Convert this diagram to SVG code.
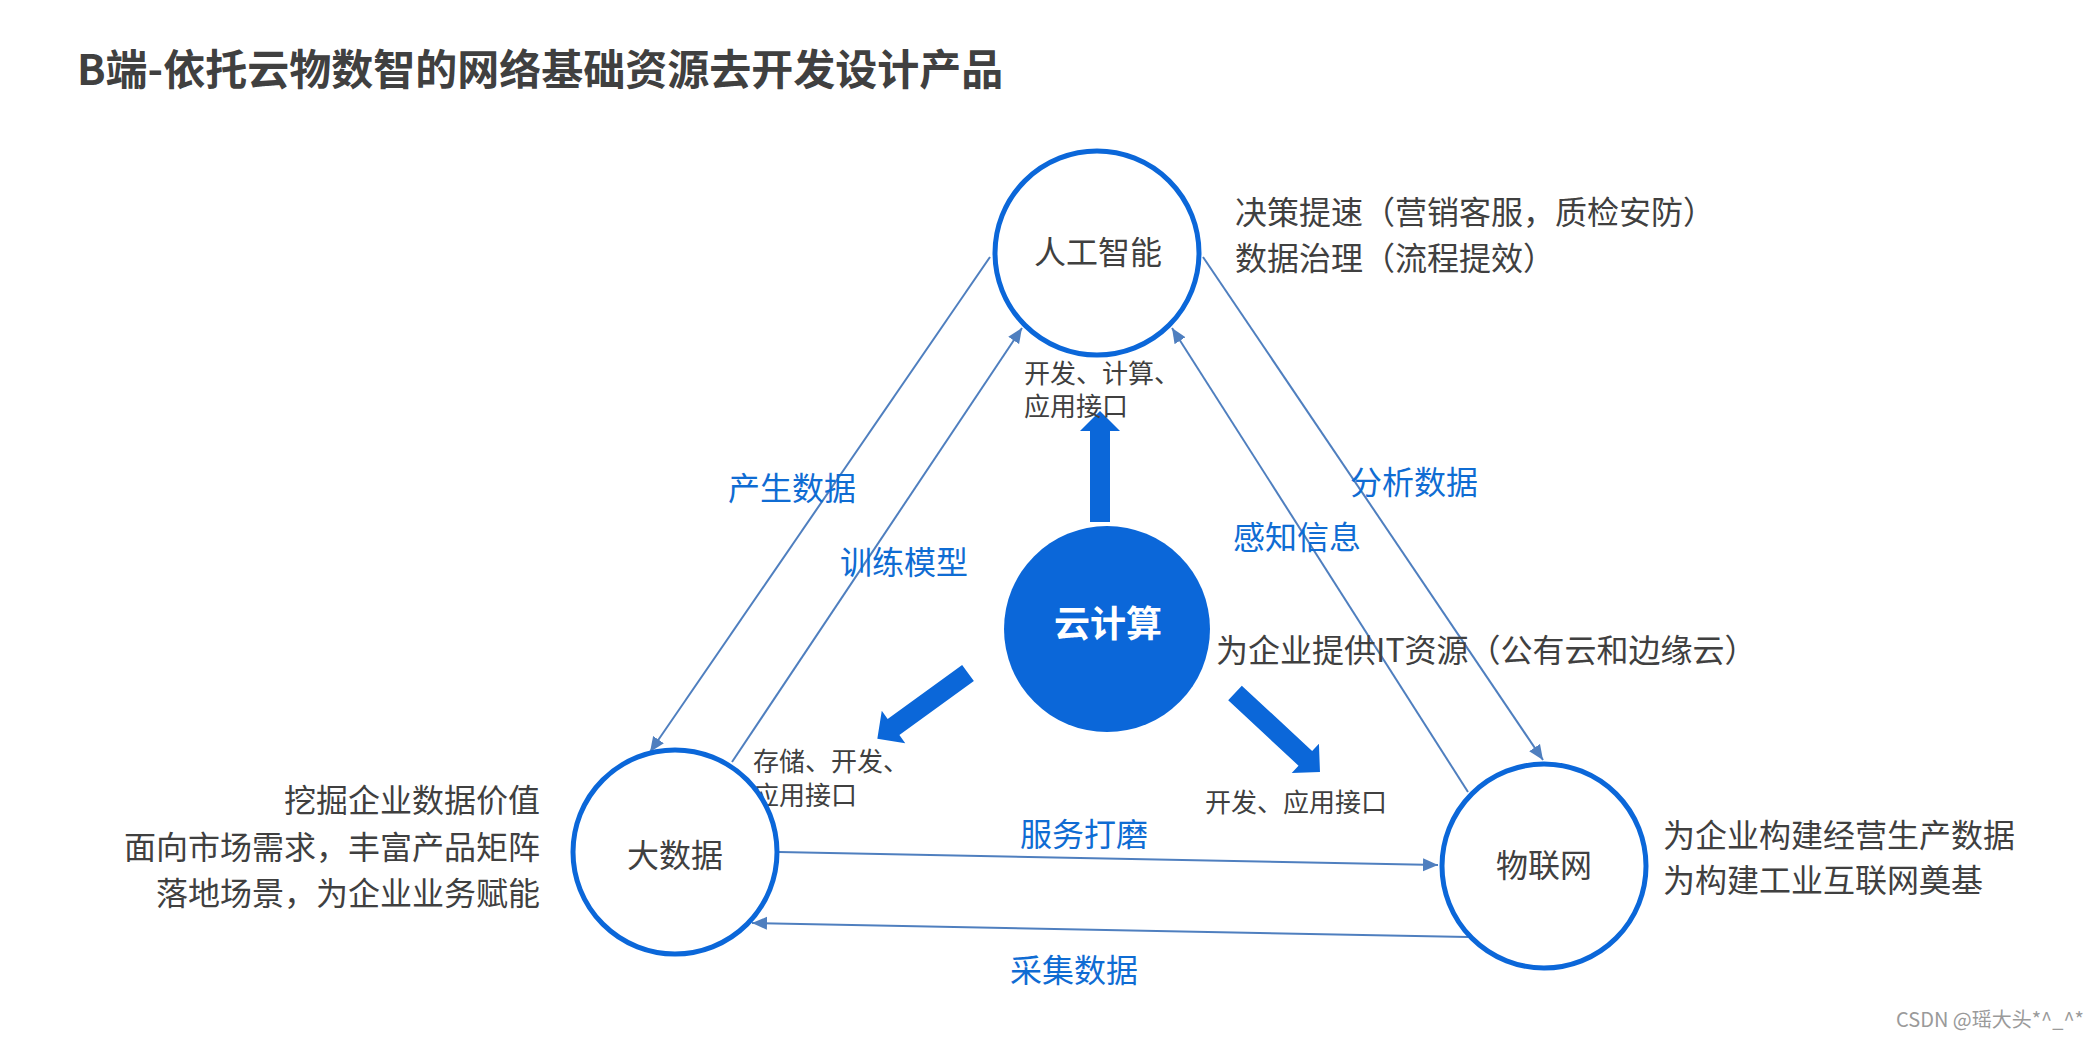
<svg xmlns="http://www.w3.org/2000/svg" width="2098" height="1038" viewBox="0 0 2098 1038">
<style>
text{font-family:"Noto Sans CJK SC","Noto Sans",sans-serif;}
.title{font-size:42px;font-weight:bold;fill:#404040;}
.node{fill:#fff;stroke:#0b67d9;stroke-width:5;}
.core{fill:#0b67d9;}
.lbl{font-size:32px;fill:#404040;}
.core-lbl{font-size:36px;font-weight:bold;fill:#fff;}
.note{font-size:32px;fill:#404040;}
.small{font-size:26px;fill:#404040;}
.blue{font-size:32px;fill:#0f6cd3;}
.thin{fill:none;stroke:#4f7fbf;stroke-width:2;}
.fat{fill:#0b67d9;}
.wm{font-size:20px;fill:#9a9a9a;}
</style>
<defs>
<marker id="ah" markerUnits="userSpaceOnUse" markerWidth="15" markerHeight="14" viewBox="0 0 15 14" refX="15" refY="7" orient="auto">
<path d="M0,0.5 L15,7 L0,13.5 z" fill="#4f7fbf"/>
</marker>
</defs>
<rect width="2098" height="1038" fill="#fff"/>
<text class="title" x="77" y="85">B端-依托云物数智的网络基础资源去开发设计产品</text>

<g id="connectors">
<line class="thin" x1="990" y1="257" x2="650" y2="752" marker-end="url(#ah)"/>
<line class="thin" x1="732" y1="762" x2="1022" y2="328" marker-end="url(#ah)"/>
<line class="thin" x1="1468" y1="792" x2="1172" y2="328" marker-end="url(#ah)"/>
<line class="thin" x1="1203" y1="257" x2="1543" y2="760" marker-end="url(#ah)"/>
<line class="thin" x1="779" y1="852" x2="1438" y2="865" marker-end="url(#ah)"/>
<line class="thin" x1="1468" y1="937" x2="752" y2="923" marker-end="url(#ah)"/>
<path class="fat" transform="translate(1100,522) rotate(-90)" d="M0,-10 H91 V-20 L111,0 L91,20 V10 H0 z"/>
<path class="fat" transform="translate(968,673) rotate(144.05)" d="M0,-10 H92 V-20 L112,0 L92,20 V10 H0 z"/>
<path class="fat" transform="translate(1235,693) rotate(42.9)" d="M0,-10 H96 V-20 L116,0 L96,20 V10 H0 z"/>
<text class="blue" x="728" y="500">产生数据</text>
<text class="blue" x="840" y="574">训练模型</text>
<text class="blue" x="1233" y="549">感知信息</text>
<text class="blue" x="1350" y="494">分析数据</text>
<text class="blue" x="1020" y="846">服务打磨</text>
<text class="blue" x="1010" y="982">采集数据</text>
<text class="small" x="1024" y="383">开发、计算、</text>
<text class="small" x="1024" y="416">应用接口</text>
<text class="small" x="753" y="771">存储、开发、</text>
<text class="small" x="753" y="805">应用接口</text>
<text class="small" x="1205" y="812">开发、应用接口</text>
</g>

<g id="node-ai">
<circle class="node" cx="1097" cy="253" r="102"/>
<text class="lbl" x="1098" y="264" text-anchor="middle">人工智能</text>
</g>
<g id="node-bigdata">
<circle class="node" cx="675" cy="852" r="102"/>
<text class="lbl" x="675" y="867" text-anchor="middle">大数据</text>
</g>
<g id="node-iot">
<circle class="node" cx="1544" cy="866" r="102"/>
<text class="lbl" x="1544" y="877" text-anchor="middle">物联网</text>
</g>
<g id="node-cloud">
<circle class="core" cx="1107" cy="629" r="103"/>
<text class="core-lbl" x="1108" y="637" text-anchor="middle">云计算</text>
</g>

<g id="notes">
<text class="note" x="1235" y="224">决策提速（营销客服，质检安防）</text>
<text class="note" x="1235" y="270">数据治理（流程提效）</text>
<text class="note" x="1216" y="662">为企业提供IT资源（公有云和边缘云）</text>
<text class="note" x="540" y="812" text-anchor="end">挖掘企业数据价值</text>
<text class="note" x="540" y="859" text-anchor="end">面向市场需求，丰富产品矩阵</text>
<text class="note" x="540" y="905" text-anchor="end">落地场景，为企业业务赋能</text>
<text class="note" x="1663" y="847">为企业构建经营生产数据</text>
<text class="note" x="1663" y="892">为构建工业互联网奠基</text>
</g>
<text class="wm" x="1896" y="1027">CSDN @瑶大头*^_^*</text>
</svg>
